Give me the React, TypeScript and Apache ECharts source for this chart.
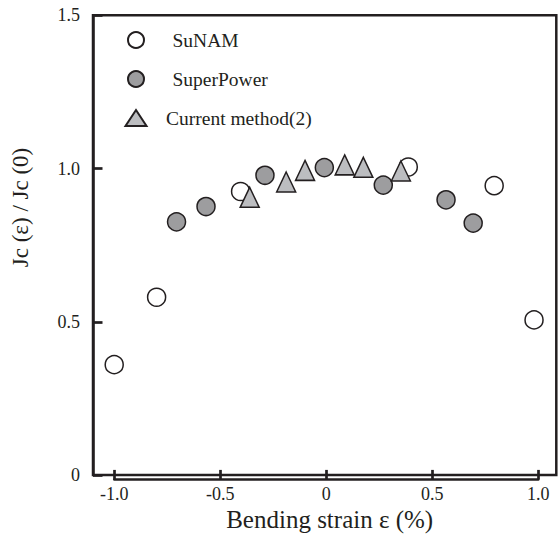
import React, { useEffect, useRef } from "react";
import * as echarts from "echarts";

const sunamX = [-1.0, -0.8, -0.404, 0.387, 0.792, 0.98];
const sunamY = [0.36, 0.58, 0.925, 1.005, 0.944, 0.506];
const superX = [-0.706, -0.567, -0.289, -0.009, 0.269, 0.565, 0.693];
const superY = [0.826, 0.876, 0.978, 1.003, 0.946, 0.898, 0.822];
const currentX = [-0.361, -0.189, -0.1, 0.087, 0.175, 0.352];
const currentY = [0.906, 0.956, 0.994, 1.012, 1.004, 0.992];
const seriesNames = ["SuNAM", "SuperPower", "Current method(2)"];
const xTitle = "Bending strain ε (%)";
const yTitle = "Jc (ε) / Jc (0)";

const INK = "#231f20";
const FONT = "Liberation Serif";

const zip = (xs: number[], ys: number[]) => xs.map((x, i) => [x, ys[i]]);
const fmt = (v: number) => (Math.abs(v) < 1e-9 ? "0" : v.toFixed(1));

export default function App() {
  const ref = useRef<HTMLDivElement>(null);
  useEffect(() => {
    if (!ref.current) return;
    const chart = echarts.init(ref.current, null, { renderer: "svg" });
    chart.setOption({
      animation: false,
      textStyle: { fontFamily: FONT, color: INK },
      grid: [
        {
          left: 93,
          right: 2.7,
          top: 15.3,
          bottom: 57.6,
          show: true,
          borderColor: INK,
          borderWidth: 2.5,
          backgroundColor: "transparent",
        },
        {
          left: 114.3,
          right: 20.7,
          top: 15.3,
          bottom: 57.6,
          show: false,
        },
      ],
      legend: {
        orient: "vertical",
        left: 119.5,
        top: 25,
        itemWidth: 21,
        itemHeight: 16,
        itemGap: 19,
        textStyle: { fontFamily: FONT, fontSize: 19.5, color: INK },
        data: [
          { name: seriesNames[0], textStyle: { padding: [0, 0, 0, 21] } },
          { name: seriesNames[1], textStyle: { padding: [0, 0, 0, 21] } },
          { name: seriesNames[2], textStyle: { padding: [0, 0, 0, 14.5] } },
        ],
      },
      xAxis: [
        {
          type: "value",
          gridIndex: 0,
          min: -1.1,
          max: 1.085,
          name: xTitle,
          nameLocation: "middle",
          nameGap: 32,
          nameTextStyle: { fontFamily: FONT, fontSize: 25, color: INK, padding: [0, 0, 0, 10] },
          splitLine: { show: false },
          axisLine: { show: false },
          axisTick: { show: false },
          axisLabel: { show: false },
        },
        {
          type: "value",
          gridIndex: 1,
          position: "bottom",
          min: -1,
          max: 1,
          interval: 0.5,
          splitLine: { show: false },
          axisLine: { show: true, onZero: false, lineStyle: { color: INK, width: 2.5 } },
          axisTick: { show: true, inside: true, length: 9.5, lineStyle: { color: INK, width: 2.7 } },
          axisLabel: {
            formatter: (v: number) => fmt(v),
            fontSize: 18,
            color: INK,
            margin: 6,
          },
        },
      ],
      yAxis: [
        {
          type: "value",
          gridIndex: 0,
          min: 0,
          max: 1.5,
          interval: 0.5,
          splitLine: { show: false },
          axisLine: { show: true, onZero: false, lineStyle: { color: INK, width: 2.5 } },
          axisTick: { show: true, inside: true, length: 9.5, lineStyle: { color: INK, width: 2.7 } },
          axisLabel: {
            formatter: (v: number) => fmt(v),
            fontSize: 18,
            color: INK,
            margin: 13,
          },
        },
        {
          type: "value",
          gridIndex: 1,
          min: 0,
          max: 1.5,
          axisLine: { show: false },
          axisTick: { show: false },
          axisLabel: { show: false },
          splitLine: { show: false },
        },
      ],
      graphic: [
        {
          type: "text",
          x: 20,
          y: 207.5,
          rotation: Math.PI / 2,
          style: {
            text: yTitle,
            fontFamily: FONT,
            fontSize: 23,
            fill: INK,
            align: "center",
            verticalAlign: "middle",
          },
        },
      ],
      series: [
        {
          name: seriesNames[0],
          type: "scatter",
          xAxisIndex: 0,
          yAxisIndex: 0,
          symbol: "circle",
          symbolSize: 18,
          itemStyle: { color: "#ffffff", borderColor: INK, borderWidth: 1.5, opacity: 1 },
          data: zip(sunamX, sunamY),
        },
        {
          name: seriesNames[1],
          type: "scatter",
          xAxisIndex: 0,
          yAxisIndex: 0,
          symbol: "circle",
          symbolSize: 18,
          itemStyle: { color: "#9d9d9f", borderColor: INK, borderWidth: 1.5, opacity: 1 },
          data: zip(superX, superY),
        },
        {
          name: seriesNames[2],
          type: "scatter",
          xAxisIndex: 0,
          yAxisIndex: 0,
          symbol: "triangle",
          symbolSize: [19, 20],
          itemStyle: { color: "#bcbdc0", borderColor: INK, borderWidth: 1.5, opacity: 1 },
          data: zip(currentX, currentY),
        },
      ],
    });
    return () => chart.dispose();
  }, []);
  return <div ref={ref} style={{ width: 559, height: 537, position: "absolute", left: 0, top: 0 }} />;
}
